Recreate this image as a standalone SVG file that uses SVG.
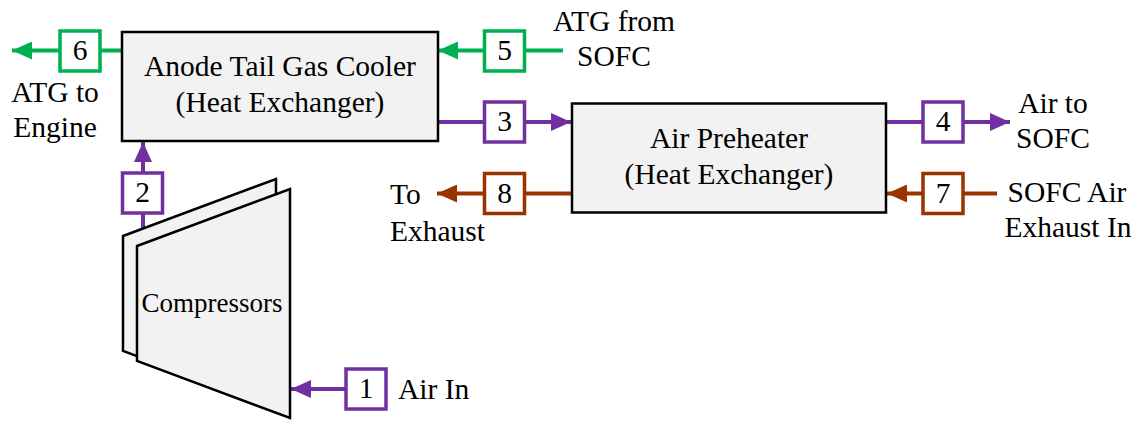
<svg xmlns="http://www.w3.org/2000/svg" width="1137" height="421" viewBox="0 0 1137 421" font-family="'Liberation Serif', serif">
<defs>
<style>
svg text{font-family:'Liberation Serif','Times New Roman',serif;font-size:29.5px;fill:#000}
.c{text-anchor:middle}
.box{fill:#F2F2F2;stroke:#000;stroke-width:2.5}
.g{stroke:#00B050;stroke-width:4;fill:none}
.p{stroke:#7030A0;stroke-width:4;fill:none}
.b{stroke:#993300;stroke-width:4;fill:none}
.tag{fill:#fff;stroke-width:3.5}
.tg{stroke:#00B050}.tp{stroke:#7030A0}.tb{stroke:#993300}
</style>
<marker id="ag" markerUnits="userSpaceOnUse" markerWidth="20" markerHeight="18" refX="20" refY="9" orient="auto"><path d="M0,0L20,9L0,18z" fill="#00B050"/></marker>
<marker id="ap" markerUnits="userSpaceOnUse" markerWidth="20" markerHeight="18" refX="20" refY="9" orient="auto"><path d="M0,0L20,9L0,18z" fill="#7030A0"/></marker>
<marker id="ab" markerUnits="userSpaceOnUse" markerWidth="20" markerHeight="18" refX="20" refY="9" orient="auto"><path d="M0,0L20,9L0,18z" fill="#993300"/></marker>
</defs>
<rect width="1137" height="421" fill="#fff"/>
<g id="connectors">
<line class="g" x1="122" y1="50.5" x2="12" y2="50.5" marker-end="url(#ag)"/>
<line class="g" x1="563" y1="50.5" x2="438" y2="50.5" marker-end="url(#ag)"/>
<line class="p" x1="438" y1="122" x2="571" y2="122" marker-end="url(#ap)"/>
<line class="p" x1="886" y1="122" x2="1010" y2="122" marker-end="url(#ap)"/>
<line class="b" x1="572" y1="193.5" x2="437" y2="193.5" marker-end="url(#ab)"/>
<line class="b" x1="997" y1="193.5" x2="887" y2="193.5" marker-end="url(#ab)"/>
<line class="p" x1="143" y1="240" x2="143" y2="142" marker-end="url(#ap)"/>
<line class="p" x1="346" y1="389" x2="291" y2="389" marker-end="url(#ap)"/>
</g>
<g id="stream-labels">
<g id="s6"><rect class="tag tg" x="60" y="31" width="40" height="40"/><text class="c" x="80" y="60">6</text></g>
<g id="s5"><rect class="tag tg" x="484.5" y="31" width="40" height="40"/><text class="c" x="504.5" y="60">5</text></g>
<g id="s3"><rect class="tag tp" x="484.5" y="102" width="40" height="40"/><text class="c" x="504.5" y="131">3</text></g>
<g id="s4"><rect class="tag tp" x="923" y="102" width="40" height="40"/><text class="c" x="943" y="131">4</text></g>
<g id="s8"><rect class="tag tb" x="484.5" y="173.5" width="40" height="40"/><text class="c" x="504.5" y="202.5">8</text></g>
<g id="s7"><rect class="tag tb" x="923" y="173.5" width="40" height="40"/><text class="c" x="943" y="202.5">7</text></g>
<g id="s2"><rect class="tag tp" x="122.5" y="173" width="40" height="40"/><text class="c" x="142.5" y="202">2</text></g>
<g id="s1"><rect class="tag tp" x="346" y="369" width="40" height="40"/><text class="c" x="366" y="398">1</text></g>
</g>
<g id="atg-cooler">
<rect class="box" x="122" y="32" width="316" height="109"/>
<text class="c" x="280" y="76">Anode Tail Gas Cooler</text>
<text class="c" x="280" y="112">(Heat Exchanger)</text>
</g>
<g id="air-preheater">
<rect class="box" x="572" y="103.5" width="314" height="109"/>
<text class="c" x="729" y="148">Air Preheater</text>
<text class="c" x="729" y="184">(Heat Exchanger)</text>
</g>
<g id="compressors">
<polygon class="box" points="123,236 276,179 276,408 123,351"/>
<polygon class="box" points="137,246 290,189 290,418 137,361"/>
<text class="c" x="212" y="312" style="font-size:27px">Compressors</text>
</g>
<g id="labels">
<text class="c" x="55" y="102">ATG to</text>
<text class="c" x="55" y="137">Engine</text>
<text class="c" x="614" y="31">ATG from</text>
<text class="c" x="614" y="66">SOFC</text>
<text class="c" x="1053" y="113">Air to</text>
<text class="c" x="1053" y="148">SOFC</text>
<text class="c" x="1067" y="202">SOFC Air</text>
<text class="c" x="1068" y="237">Exhaust In</text>
<text x="390" y="204">To</text>
<text x="390" y="241">Exhaust</text>
<text x="398" y="399">Air In</text>
</g>
</svg>
